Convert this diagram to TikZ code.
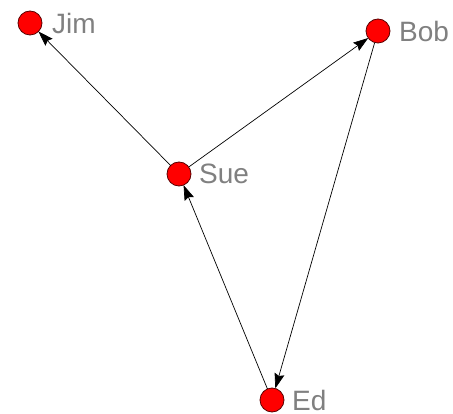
\documentclass[tikz,border=0pt]{standalone}
\usepackage{fontspec}
\setmainfont{Liberation Sans}
\usetikzlibrary{arrows.meta}
\definecolor{lbl}{RGB}{128,128,128}
\definecolor{rim}{RGB}{90,0,0}
\begin{document}
\begin{tikzpicture}[x=1pt,y=-1pt,
  vert/.style={circle,fill=red,draw=rim,line width=0.8pt,minimum size=24pt,inner sep=0pt,outer sep=0pt},
  lab/.style={text=lbl,font=\fontsize{28}{28}\selectfont,anchor=west,inner sep=0pt},
  edge/.style={draw=black,line width=0.7pt,-{Stealth[length=15pt,width=10pt,inset=2pt]}}]
\useasboundingbox (0,0) rectangle (453,414);
\node[vert] (jim) at (30,23) {};
\node[vert] (bob) at (378,31) {};
\node[vert] (sue) at (179,174) {};
\node[vert] (ed) at (272,400) {};
\node[lab] (jiml) at (52,23) {Jim};
\node[lab] (bobl) at (399,31) {Bob};
\node[lab] (suel) at (199,174) {Sue};
\node[lab] (edl) at (292,400) {Ed};
\draw[edge] (sue) -- (jim);
\draw[edge] (sue) -- (bob);
\draw[edge] (bob) -- (ed);
\draw[edge] (ed) -- (sue);
\end{tikzpicture}
\end{document}
